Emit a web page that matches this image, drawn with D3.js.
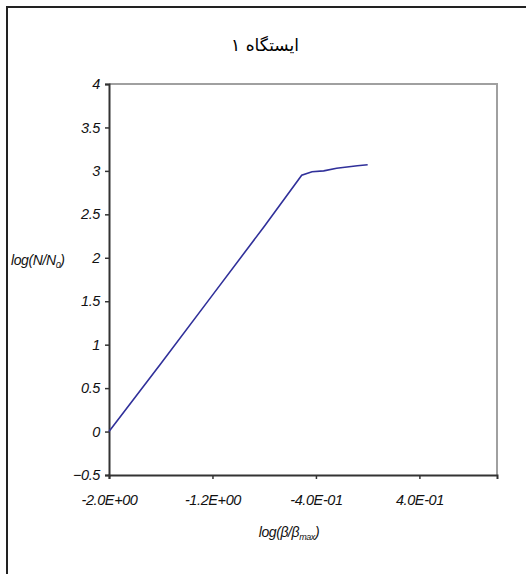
<!DOCTYPE html>
<html>
<head>
<meta charset="utf-8">
<script src="https://cdn.jsdelivr.net/npm/d3@7"></script>
<style>
  body { margin: 0; background: #fff; }
  svg { display: block; }
  .tick text { font-family: "Liberation Sans", Arial, sans-serif; font-style: italic; font-size: 14.5px; letter-spacing: -0.4px; fill: #111; }
</style>
</head>
<body>
<div class="chart"></div>
<script>
// station 1 curve
const xValues = [-2.0, -1.6, -1.2, -0.8, -0.51, -0.43, -0.34, -0.24, -0.08, 0.0];
const yValues = [0.0, 0.78, 1.57, 2.36, 2.95, 2.99, 3.0, 3.03, 3.06, 3.07];
const xTicks = [-2.0, -1.2, -0.4, 0.4];
const xTickLabels = ['-2.0E+00', '-1.2E+00', '-4.0E-01', '4.0E-01'];
const yTicks = [-0.5, 0, 0.5, 1, 1.5, 2, 2.5, 3, 3.5, 4];
const chartTitle = 'ایستگاه ۱';

const w = 526;
const h = 574;
const plot = { left: 109, top: 84, right: 497, bottom: 475 };

const svg = d3.select('.chart')
  .append('svg')
  .attr('width', w)
  .attr('height', h);

// outer frame (runs off the right and bottom edge)
svg.append('rect')
  .attr('x', 7)
  .attr('y', 7)
  .attr('width', 600)
  .attr('height', 600)
  .attr('fill', 'none')
  .attr('stroke', '#222')
  .attr('stroke-width', 2);

const x = d3.scaleLinear().domain([-2, 1]).range([plot.left, plot.right]);
const y = d3.scaleLinear().domain([-0.5, 4]).range([plot.bottom, plot.top]);

// plot area border (top / right in grey)
svg.append('path')
  .attr('d', `M${plot.left},${plot.top}H${plot.right}V${plot.bottom}`)
  .attr('fill', 'none')
  .attr('stroke', '#a0a0a0')
  .attr('stroke-width', 2);

const yAxis = svg.append('g')
  .attr('transform', `translate(${plot.left},0)`)
  .call(d3.axisLeft(y).tickValues(yTicks).tickSize(4).tickPadding(5).tickFormat(d3.format('')));

const xAxis = svg.append('g')
  .attr('transform', `translate(0,${plot.bottom})`)
  .call(d3.axisBottom(x).tickValues(xTicks).tickSize(4).tickPadding(16).tickFormat((d, i) => xTickLabels[i]));

[xAxis, yAxis].forEach(g => {
  g.select('.domain').attr('stroke', '#333').attr('stroke-width', 2);
  g.selectAll('.tick line').attr('stroke', '#333').attr('stroke-width', 1.5);
});

const line = d3.line()
  .x(d => x(d[0]))
  .y(d => y(d[1]));

svg.append('path')
  .datum(xValues.map((v, i) => [v, yValues[i]]))
  .attr('d', line)
  .attr('fill', 'none')
  .attr('stroke', '#30309a')
  .attr('stroke-width', 1.6);

svg.append('text')
  .attr('x', 265)
  .attr('y', 51)
  .attr('text-anchor', 'middle')
  .attr('font-family', '"DejaVu Sans", sans-serif')
  .attr('font-size', 17)
  .attr('direction', 'rtl')
  .text(chartTitle);

// axis titles
const yTitle = svg.append('text')
  .attr('x', 11)
  .attr('y', 265)
  .attr('font-family', '"Liberation Sans", Arial, sans-serif')
  .attr('font-style', 'italic')
  .attr('font-size', 14)
  .attr('letter-spacing', -0.4)
  .attr('fill', '#111');
yTitle.append('tspan').text('log(N/N');
yTitle.append('tspan').attr('font-size', 9).attr('dy', 3).text('0');
yTitle.append('tspan').attr('dy', -3).text(')');

const xTitle = svg.append('text')
  .attr('x', 289)
  .attr('y', 537)
  .attr('text-anchor', 'middle')
  .attr('font-family', '"Liberation Sans", Arial, sans-serif')
  .attr('font-style', 'italic')
  .attr('font-size', 14)
  .attr('letter-spacing', -0.4)
  .attr('fill', '#111');
xTitle.append('tspan').text('log(β/β');
xTitle.append('tspan').attr('font-size', 9).attr('dy', 3).text('max');
xTitle.append('tspan').attr('dy', -3).text(')');
</script>
</body>
</html>
